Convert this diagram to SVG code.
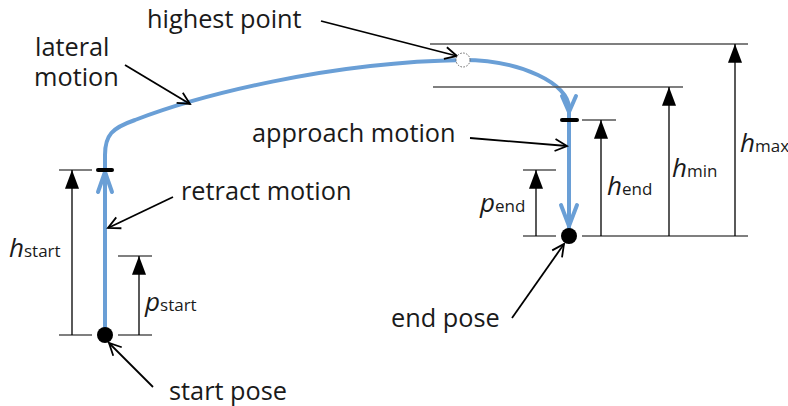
<svg xmlns="http://www.w3.org/2000/svg" width="788" height="406" viewBox="0 0 788 406">
<style>
.lbl{font-family:"Open Sans","Noto Sans",sans-serif;font-size:25.3px;fill:#1a1a1a}
.sym{font-family:"Open Sans","Noto Sans",sans-serif;font-size:26px;font-style:italic;fill:#1a1a1a}
.sub{font-family:"Open Sans","Noto Sans",sans-serif;font-size:17px;font-style:normal;fill:#1a1a1a}
.ext{stroke:#555;stroke-width:1.5;fill:none}
.dim{stroke:#000;stroke-width:1.3;fill:none;marker-end:url(#fill)}
.ptr{stroke:#000;stroke-width:1.8;fill:none;marker-end:url(#open)}
.blue{stroke:#6a9fd6;stroke-width:4;fill:none;stroke-linecap:round;stroke-linejoin:round}
.tick{stroke:#000;stroke-width:4;stroke-linecap:round}
</style>
<defs>
<marker id="fill" markerUnits="userSpaceOnUse" markerWidth="20" markerHeight="14" refX="16" refY="6" orient="auto" viewBox="0 0 16 12">
<path d="M0,0 L16,6 L0,12 Z" fill="#000"/>
</marker>
<marker id="open" markerUnits="userSpaceOnUse" markerWidth="16" markerHeight="16" refX="13" refY="7" orient="auto" viewBox="0 0 16 14">
<path d="M1,1 L13,7 L1,13" fill="none" stroke="#000" stroke-width="1.8"/>
</marker>
</defs>
<g id="connectors">
<path class="blue" d="M105,335 L105,155 C105,135 112,128 135,120 C200,95 330,62 463,60 C521.5,60 569,84 569,108 L569,230"/>
<path class="blue" d="M98,192 L105,172 L112,192"/>
<path class="blue" d="M562,96 L569,112 L576,96"/>
<path class="blue" d="M561,205 L569,226 L577,205"/>
<line class="tick" x1="98" y1="170" x2="112" y2="170"/>
<line class="tick" x1="562" y1="120" x2="577" y2="120"/>
<g id="extension-lines">
<line class="ext" x1="59" y1="170" x2="92" y2="170"/>
<line class="ext" x1="59" y1="335" x2="92" y2="335"/>
<line class="ext" x1="118" y1="335" x2="152" y2="335"/>
<line class="ext" x1="118" y1="256" x2="152" y2="256"/>
<line class="ext" x1="430" y1="44" x2="748" y2="44"/>
<line class="ext" x1="433" y1="87" x2="683" y2="87"/>
<line class="ext" x1="582" y1="120" x2="616" y2="120"/>
<line class="ext" x1="523" y1="170" x2="556" y2="170"/>
<line class="ext" x1="523" y1="236" x2="556" y2="236"/>
<line class="ext" x1="582" y1="236" x2="748" y2="236"/>
</g>
<g id="dimensions">
<line class="dim" x1="72" y1="335" x2="72" y2="170"/>
<line class="dim" x1="139" y1="335" x2="139" y2="256"/>
<line class="dim" x1="536" y1="236" x2="536" y2="170"/>
<line class="dim" x1="601" y1="236" x2="601" y2="120"/>
<line class="dim" x1="669" y1="236" x2="669" y2="87"/>
<line class="dim" x1="735" y1="236" x2="735" y2="44"/>
</g>
<g id="pointers">
<line class="ptr" x1="321" y1="21" x2="457" y2="56"/>
<line class="ptr" x1="125" y1="65" x2="190" y2="104"/>
<line class="ptr" x1="173" y1="197" x2="108" y2="228"/>
<line class="ptr" x1="470" y1="138" x2="567" y2="146"/>
<line class="ptr" x1="512" y1="318" x2="564" y2="244"/>
<line class="ptr" x1="153" y1="387" x2="109" y2="343"/>
</g>
</g>
<g id="start-pose"><circle cx="105" cy="335" r="8" fill="#000"/></g>
<g id="end-pose"><circle cx="569" cy="236" r="8" fill="#000"/></g>
<g id="highest-point-marker"><circle cx="463" cy="60" r="7" fill="#fff" stroke="#666" stroke-width="1" stroke-dasharray="1.5,1.5"/></g>
<g id="labels">
<text class="lbl" x="147" y="28">highest point</text>
<text class="lbl" x="35" y="56">lateral</text>
<text class="lbl" x="34" y="86">motion</text>
<text class="lbl" x="181" y="200">retract motion</text>
<text class="lbl" x="252" y="142">approach motion</text>
<text class="lbl" x="391" y="327">end pose</text>
<text class="lbl" x="169" y="400">start pose</text>
<text class="sym" x="9" y="257">h<tspan class="sub">start</tspan></text>
<text class="sym" x="145" y="311">p<tspan class="sub">start</tspan></text>
<text class="sym" x="480" y="212">p<tspan class="sub">end</tspan></text>
<text class="sym" x="607" y="195">h<tspan class="sub">end</tspan></text>
<text class="sym" x="672" y="177">h<tspan class="sub">min</tspan></text>
<text class="sym" x="740" y="152">h<tspan class="sub">max</tspan></text>
</g>
</svg>
